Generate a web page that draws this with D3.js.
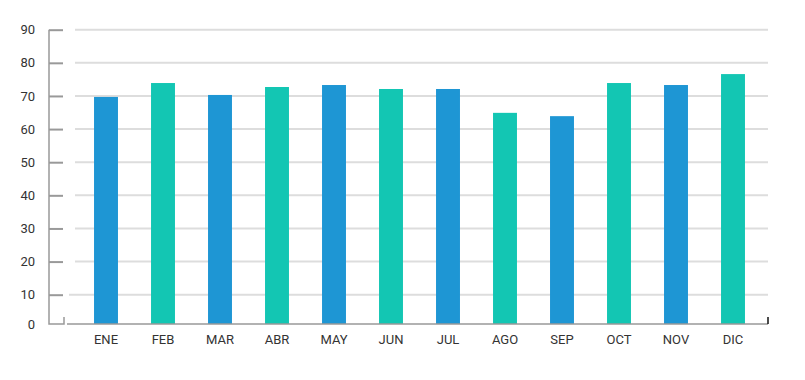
<!DOCTYPE html>
<html>
<head>
<meta charset="utf-8">
<script src="https://cdn.jsdelivr.net/npm/d3@7"></script>
<style>
  html, body { margin: 0; padding: 0; background: #fff; }
  svg { display: block; font-family: Roboto, "Noto Sans", sans-serif; }
</style>
</head>
<body>
<svg id="chart" width="805" height="380"></svg>
<script>
const categories = ["ENE","FEB","MAR","ABR","MAY","JUN","JUL","AGO","SEP","OCT","NOV","DIC"];
const values = [69.7, 73.9, 70.3, 72.7, 73.3, 72.1, 72.1, 64.9, 63.9, 73.9, 73.3, 76.6];
const seriesColors = ["#1e96d4", "#13c6b3"];
const yTicks = [0, 10, 20, 30, 40, 50, 60, 70, 80, 90];

const svg = d3.select("#chart");

const x = d3.scaleBand()
  .domain(categories)
  .range([77.5, 761.5])
  .paddingInner(0.58)
  .paddingOuter(0.29);

const y = d3.scaleLinear()
  .domain([0, 10, 90])
  .range([324, 294.7, 29.7]);

// gridlines
svg.append("g")
  .selectAll("line")
  .data(yTicks.filter(d => d > 0))
  .join("line")
  .attr("x1", d => d === 10 ? 69 : 75)
  .attr("x2", 768)
  .attr("y1", d => y(d))
  .attr("y2", d => y(d))
  .attr("stroke", "#dddddd")
  .attr("stroke-width", 2);

// bars
svg.append("g")
  .selectAll("rect")
  .data(values)
  .join("rect")
  .attr("x", (d, i) => x(categories[i]))
  .attr("width", x.bandwidth())
  .attr("y", d => y(d))
  .attr("height", d => y(0) - y(d))
  .attr("fill", (d, i) => seriesColors[i % 2]);

// y axis
const yAxis = d3.axisLeft(y)
  .tickValues(yTicks)
  .tickSize(0)
  .tickPadding(14);
const gy = svg.append("g")
  .attr("transform", "translate(49,0)")
  .call(yAxis);
gy.select(".domain").remove();
gy.selectAll("text")
  .attr("fill", "#333")
  .style("font-size", "13px")
  .style("font-family", "Roboto, sans-serif");
gy.selectAll(".tick")
  .filter(d => d > 0)
  .append("line")
  .attr("x1", 0).attr("x2", 14)
  .attr("stroke", "#999").attr("stroke-width", 2);

gy.append("path")
  .attr("d", `M0,${y(90)}V${y(0)}H15V${y(0) - 7}`)
  .attr("fill", "none")
  .attr("stroke", "#999")
  .attr("stroke-width", 1.5);

// x axis
const xAxis = d3.axisBottom(x).tickSize(0).tickPadding(11);
const gx = svg.append("g")
  .attr("transform", `translate(0,${y(0)})`)
  .call(xAxis);
gx.select(".domain").remove();
gx.selectAll("text")
  .attr("fill", "#333")
  .style("font-size", "13px")
  .style("font-family", "Roboto, sans-serif");
gx.append("path")
  .attr("d", "M67,0H768")
  .attr("stroke", "#999")
  .attr("stroke-width", 1.5)
  .attr("fill", "none");
gx.append("path")
  .attr("d", "M768,0V-7")
  .attr("stroke", "#111")
  .attr("stroke-width", 1.5)
  .attr("fill", "none");
</script>
</body>
</html>
